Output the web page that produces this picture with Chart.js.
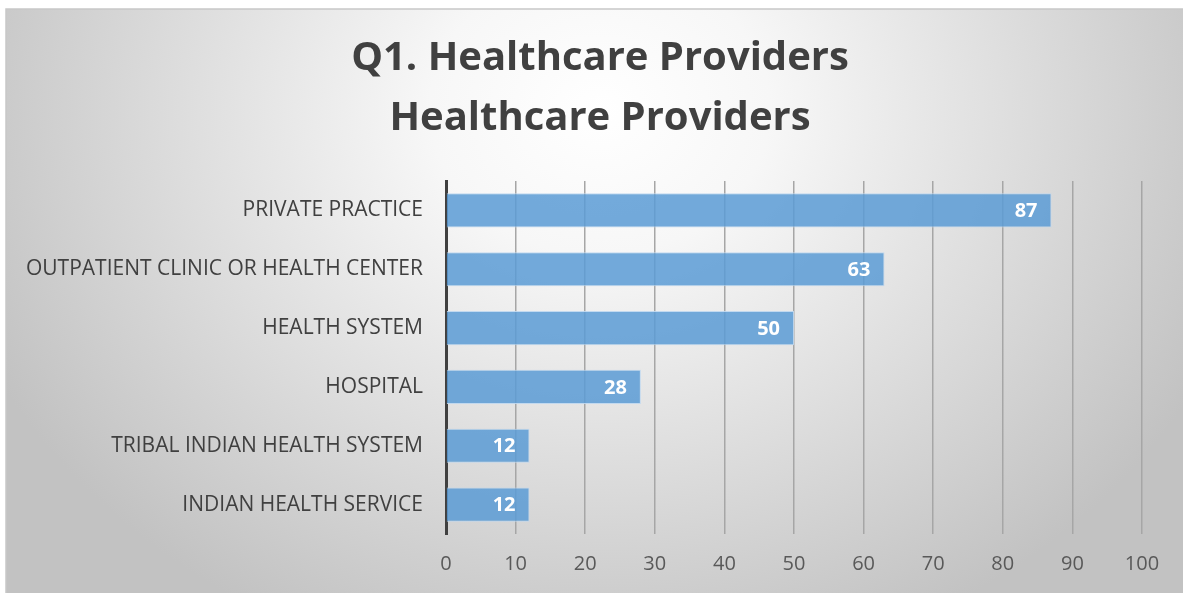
<!DOCTYPE html>
<html>
<head>
<meta charset="utf-8">
<script src="https://cdn.jsdelivr.net/npm/chart.js@4.4.1/dist/chart.umd.min.js"></script>
<style>
  html, body { margin: 0; padding: 0; background: #fff; }
  #wrap { width: 1183px; height: 593px; }
</style>
</head>
<body>
<div id="wrap"><canvas id="providersGraph" width="1183" height="593"></canvas></div>
<script>
// data
var providerLabels = ["PRIVATE PRACTICE", "OUTPATIENT CLINIC OR HEALTH CENTER", "HEALTH SYSTEM", "HOSPITAL", "TRIBAL INDIAN HEALTH SYSTEM", "INDIAN HEALTH SERVICE"];
var providerCounts = [87, 63, 50, 28, 12, 12];
var titleLines = ["Q1. Healthcare Providers", "Healthcare Providers"];
var xTicks = [0, 10, 20, 30, 40, 50, 60, 70, 80, 90, 100];

var fontName = "'Open Sans', 'Noto Sans', sans-serif";

// grey radial background behind the whole chart
var backgroundPlugin = {
    id: 'bgFill',
    afterLayout: function(chart) {
        // center the title on the whole picture, not only on the layout box
        if (chart.titleBlock) {
            chart.titleBlock.left = 58;
        }
    },
    beforeDraw: function(chart) {
        var ctx = chart.ctx;
        ctx.save();
        ctx.fillStyle = '#ffffff';
        ctx.fillRect(0, 0, chart.width, chart.height);
        ctx.restore();
        ctx.save();
        ctx.translate(600, 110);
        ctx.scale(1, 0.85);
        var g = ctx.createRadialGradient(0, 0, 0, 0, 0, 680);
        g.addColorStop(0, '#ffffff');
        g.addColorStop(0.25, '#f7f7f7');
        g.addColorStop(1, '#c2c2c2');
        ctx.fillStyle = g;
        ctx.fillRect(6 - 600, (9 - 110) / 0.85, chart.width, chart.height / 0.85);
        ctx.restore();
        ctx.save();
        ctx.strokeStyle = '#c8c8c8';
        ctx.lineWidth = 1.5;
        ctx.beginPath();
        ctx.moveTo(6, chart.height);
        ctx.lineTo(6, 9);
        ctx.lineTo(chart.width, 9);
        ctx.stroke();
        ctx.restore();
    }
};

// white value labels inside the end of each bar
var valueLabelPlugin = {
    id: 'valueLabels',
    afterDatasetsDraw: function(chart) {
        var ctx = chart.ctx;
        var meta = chart.getDatasetMeta(0);
        ctx.save();
        ctx.fillStyle = '#ffffff';
        ctx.font = 'bold 20px ' + fontName;
        ctx.textAlign = 'right';
        ctx.textBaseline = 'middle';
        meta.data.forEach(function(bar, i) {
            ctx.fillText(providerCounts[i], bar.x - 14, bar.y + 1);
        });
        ctx.restore();
    }
};

var providerConfig = {
    type: 'bar',
    data: {
        labels: providerLabels,
        datasets: [{
            data: providerCounts,
            backgroundColor: 'rgba(91,155,213,0.85)',
            borderColor: 'rgba(190,215,240,0.9)',
            borderWidth: 1,
            borderSkipped: 'left',
            categoryPercentage: 1,
            barPercentage: 0.58
        }]
    },
    options: {
        indexAxis: 'y',
        responsive: false,
        animation: false,
        layout: {
            padding: { top: 9, right: 41, bottom: 9, left: 6 }
        },
        plugins: {
            legend: { display: false },
            tooltip: { enabled: false },
            title: {
                display: true,
                text: titleLines,
                color: '#404040',
                font: { family: fontName, size: 40, weight: 'bold', lineHeight: 1.5 },
                padding: { top: 20, bottom: 32 }
            }
        },
        scales: {
            x: {
                min: 0,
                max: 100,
                afterBuildTicks: function(scale) {
                    scale.ticks = xTicks.map(function(v) { return { value: v }; });
                },
                afterFit: function(scale) { scale.height = 50; },
                grid: { color: '#a6a6a6', lineWidth: 1.5, drawTicks: false },
                border: { display: false },
                ticks: {
                    color: '#595959',
                    padding: 18,
                    font: { family: fontName, size: 20 }
                }
            },
            y: {
                afterFit: function(scale) { scale.width = 440; },
                grid: { display: false, drawTicks: false },
                border: { display: true, color: '#404040', width: 3 },
                ticks: {
                    color: '#404040',
                    padding: 23,
                    font: { family: fontName, size: 21 }
                }
            }
        }
    },
    plugins: [backgroundPlugin, valueLabelPlugin]
};

var providerCtx = document.getElementById("providersGraph");
var providerChart = new Chart(providerCtx, providerConfig);
</script>
</body>
</html>
